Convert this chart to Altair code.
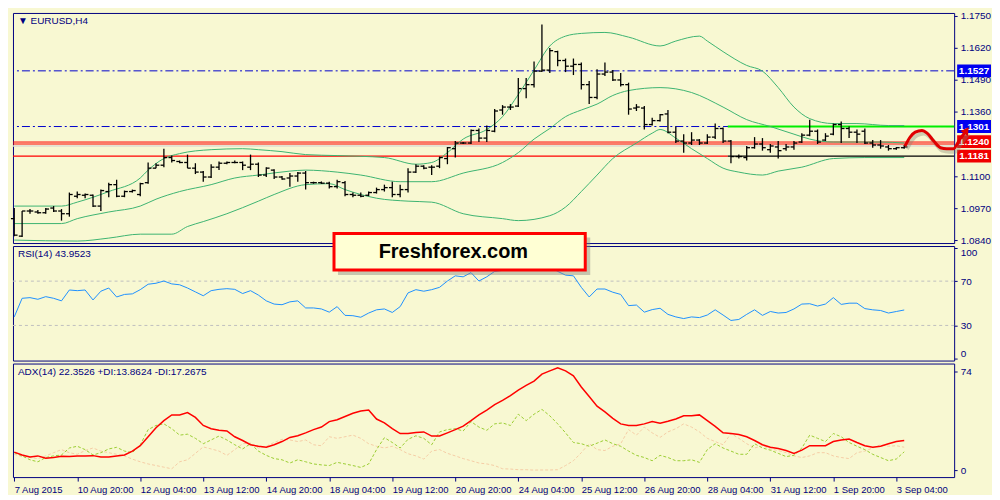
import altair as alt
import pandas as pd

# ---------------- data ----------------
bar_index = list(range(114))
bar_open = [
    1.0927, 1.0856, 1.0958, 1.0954, 1.0951, 1.0970, 1.0958, 1.0947, 1.1018, 1.1022,
    1.1022, 1.0978, 1.1037, 1.1065, 1.1018, 1.1037, 1.1025, 1.1073, 1.1132, 1.1144,
    1.1175, 1.1159, 1.1155, 1.1132, 1.1116, 1.1096, 1.1136, 1.1152, 1.1155, 1.1155,
    1.1136, 1.1148, 1.1104, 1.1124, 1.1096, 1.1092, 1.1100, 1.1112, 1.1073, 1.1073,
    1.1071, 1.1057, 1.1073, 1.1025, 1.1022, 1.1022, 1.1033, 1.1045, 1.1053, 1.1025,
    1.1045, 1.1116, 1.1140, 1.1136, 1.1140, 1.1171, 1.1211, 1.1234, 1.1234, 1.1285,
    1.1254, 1.1282, 1.1368, 1.1380, 1.1384, 1.1455, 1.1471, 1.1526, 1.1530, 1.1605,
    1.1569, 1.1546, 1.1553, 1.1471, 1.1419, 1.1514, 1.1522, 1.1490, 1.1471, 1.1376,
    1.1376, 1.1309, 1.1325, 1.1352, 1.1278, 1.1242, 1.1234, 1.1246, 1.1234, 1.1258,
    1.1293, 1.1242, 1.1179, 1.1175, 1.1215, 1.1230, 1.1207, 1.1218, 1.1211, 1.1218,
    1.1238, 1.1266, 1.1282, 1.1246, 1.1270, 1.1309, 1.1293, 1.1278, 1.1282, 1.1234,
    1.1226, 1.1218, 1.1211, 1.1215]
bar_high = [
    1.0970, 1.0958, 1.0966, 1.0962, 1.0970, 1.0978, 1.0966, 1.1033, 1.1037, 1.1029,
    1.1025, 1.1045, 1.1073, 1.1085, 1.1041, 1.1045, 1.1073, 1.1155, 1.1152, 1.1211,
    1.1183, 1.1163, 1.1187, 1.1152, 1.1120, 1.1148, 1.1159, 1.1159, 1.1163, 1.1159,
    1.1187, 1.1155, 1.1136, 1.1128, 1.1100, 1.1112, 1.1116, 1.1120, 1.1077, 1.1078,
    1.1077, 1.1085, 1.1080, 1.1033, 1.1033, 1.1037, 1.1053, 1.1065, 1.1077, 1.1065,
    1.1132, 1.1148, 1.1144, 1.1144, 1.1179, 1.1218, 1.1242, 1.1238, 1.1289, 1.1293,
    1.1305, 1.1372, 1.1388, 1.1392, 1.1498, 1.1498, 1.1565, 1.1715, 1.1620, 1.1609,
    1.1577, 1.1577, 1.1561, 1.1486, 1.1534, 1.1561, 1.1530, 1.1518, 1.1479, 1.1392,
    1.1384, 1.1337, 1.1352, 1.1368, 1.1301, 1.1270, 1.1278, 1.1250, 1.1270, 1.1313,
    1.1297, 1.1246, 1.1187, 1.1222, 1.1258, 1.1254, 1.1230, 1.1242, 1.1230, 1.1242,
    1.1274, 1.1329, 1.1289, 1.1274, 1.1313, 1.1321, 1.1301, 1.1289, 1.1293, 1.1246,
    1.1246, 1.1226, 1.1218, 1.1226]
bar_low = [
    1.0856, 1.0852, 1.0947, 1.0947, 1.0947, 1.0954, 1.0919, 1.0935, 1.1010, 1.1010,
    1.0974, 1.0958, 1.1014, 1.1014, 1.1014, 1.1033, 1.1018, 1.1069, 1.1132, 1.1136,
    1.1155, 1.1152, 1.1132, 1.1108, 1.1077, 1.1092, 1.1124, 1.1148, 1.1152, 1.1124,
    1.1124, 1.1096, 1.1096, 1.1088, 1.1085, 1.1057, 1.1077, 1.1045, 1.1069, 1.1068,
    1.1049, 1.1049, 1.1018, 1.1014, 1.1014, 1.1018, 1.1029, 1.1037, 1.1014, 1.1014,
    1.1033, 1.1112, 1.1128, 1.1104, 1.1132, 1.1148, 1.1175, 1.1230, 1.1230, 1.1238,
    1.1238, 1.1278, 1.1349, 1.1368, 1.1380, 1.1416, 1.1459, 1.1522, 1.1518, 1.1546,
    1.1522, 1.1510, 1.1451, 1.1392, 1.1412, 1.1506, 1.1486, 1.1463, 1.1349, 1.1364,
    1.1289, 1.1305, 1.1321, 1.1274, 1.1234, 1.1195, 1.1226, 1.1226, 1.1230, 1.1250,
    1.1234, 1.1152, 1.1171, 1.1163, 1.1211, 1.1203, 1.1195, 1.1171, 1.1203, 1.1207,
    1.1234, 1.1262, 1.1230, 1.1242, 1.1266, 1.1234, 1.1254, 1.1234, 1.1230, 1.1215,
    1.1211, 1.1203, 1.1207, 1.1211]
bar_close = [
    1.0860, 1.0958, 1.0958, 1.0951, 1.0966, 1.0958, 1.0947, 1.1025, 1.1025, 1.1025,
    1.0978, 1.1041, 1.1065, 1.1018, 1.1037, 1.1041, 1.1069, 1.1132, 1.1144, 1.1175,
    1.1163, 1.1155, 1.1132, 1.1116, 1.1096, 1.1136, 1.1152, 1.1155, 1.1155, 1.1144,
    1.1148, 1.1104, 1.1132, 1.1096, 1.1088, 1.1100, 1.1112, 1.1073, 1.1073, 1.1071,
    1.1057, 1.1077, 1.1025, 1.1022, 1.1018, 1.1033, 1.1045, 1.1053, 1.1025, 1.1045,
    1.1116, 1.1140, 1.1132, 1.1136, 1.1175, 1.1215, 1.1234, 1.1234, 1.1285, 1.1254,
    1.1285, 1.1364, 1.1380, 1.1380, 1.1455, 1.1471, 1.1526, 1.1530, 1.1609, 1.1569,
    1.1546, 1.1553, 1.1471, 1.1419, 1.1514, 1.1522, 1.1490, 1.1471, 1.1372, 1.1380,
    1.1309, 1.1325, 1.1349, 1.1278, 1.1242, 1.1234, 1.1246, 1.1234, 1.1258, 1.1293,
    1.1242, 1.1179, 1.1179, 1.1215, 1.1230, 1.1215, 1.1222, 1.1203, 1.1218, 1.1234,
    1.1266, 1.1282, 1.1238, 1.1262, 1.1309, 1.1293, 1.1278, 1.1270, 1.1234, 1.1226,
    1.1222, 1.1211, 1.1215, 1.1218]

bb_upper_index = [0, 6, 8, 12, 16, 17, 19, 21, 25, 29, 31, 34, 37, 41, 47, 51, 53, 55, 57, 60,
                  62, 64, 66, 68, 70, 72, 75, 78, 82, 84, 87, 88, 90, 93, 95, 97, 99, 101, 104,
                  107, 111, 113]
bb_upper = [1.0978, 1.0978, 1.0994, 1.1037, 1.1092, 1.1124, 1.1171, 1.1191, 1.1207, 1.1211,
            1.1207, 1.1199, 1.1187, 1.1183, 1.1175, 1.1148, 1.1155, 1.1195, 1.1250, 1.1289,
            1.1341, 1.1431, 1.1530, 1.1628, 1.1668, 1.1679, 1.1683, 1.1664, 1.1628, 1.1648,
            1.1668, 1.1648, 1.1605, 1.1549, 1.1526, 1.1459, 1.1380, 1.1333, 1.1313, 1.1313,
            1.1305, 1.1305]
bb_middle_index = [0, 6, 8, 12, 16, 18, 21, 25, 28, 31, 35, 37, 41, 44, 49, 53, 57, 62, 64, 66,
                   68, 70, 72, 74, 76, 78, 82, 86, 90, 93, 96, 99, 101, 104, 107, 110, 113]
bb_middle = [1.0907, 1.0907, 1.0927, 1.0954, 1.0978, 1.1006, 1.1037, 1.1065, 1.1092, 1.1104,
             1.1120, 1.1124, 1.1116, 1.1104, 1.1077, 1.1077, 1.1112, 1.1155, 1.1195, 1.1250,
             1.1293, 1.1341, 1.1368, 1.1392, 1.1427, 1.1447, 1.1459, 1.1439, 1.1380, 1.1329,
             1.1301, 1.1270, 1.1250, 1.1238, 1.1238, 1.1238, 1.1234]
bb_lower_index = [0, 8, 12, 16, 20, 22, 24, 27, 31, 33, 37, 40, 42, 44, 46, 50, 53, 57, 62, 64,
                  68, 70, 72, 74, 76, 79, 81, 82, 84, 86, 88, 90, 92, 95, 97, 100, 104, 108, 113]
bb_lower = [1.0840, 1.0836, 1.0848, 1.0864, 1.0864, 1.0895, 1.0915, 1.0947, 1.0998, 1.1025,
            1.1065, 1.1069, 1.1045, 1.1025, 1.1010, 1.0998, 1.0994, 1.0947, 1.0927, 1.0919,
            1.0939, 1.0974, 1.1037, 1.1104, 1.1171, 1.1234, 1.1274, 1.1289, 1.1254, 1.1211,
            1.1171, 1.1132, 1.1116, 1.1104, 1.1120, 1.1136, 1.1171, 1.1175, 1.1175]

rsi_values = [
    37.7, 54.5, 55.1, 53.6, 56.0, 54.5, 52.2, 62.0, 61.4, 62.0,
    53.0, 60.9, 63.8, 55.7, 58.0, 58.5, 62.3, 67.2, 68.1, 70.1,
    67.5, 66.7, 63.8, 60.3, 56.8, 61.4, 62.6, 63.2, 62.6, 58.8,
    61.4, 57.4, 52.2, 49.3, 48.7, 51.3, 52.2, 45.8, 45.8, 44.9,
    42.0, 47.0, 39.1, 38.8, 37.4, 41.2, 44.1, 44.9, 41.7, 47.0,
    59.4, 62.3, 60.9, 62.3, 64.4, 70.1, 74.8, 73.9, 77.7, 70.1,
    73.9, 78.8, 79.7, 82.0, 84.5, 86.0, 88.0, 86.5, 83.0, 78.8,
    75.4, 74.8, 64.4, 55.7, 62.9, 62.9, 60.0, 58.0, 47.9, 48.4,
    42.0, 44.3, 45.5, 40.0, 37.7, 36.2, 37.7, 37.1, 39.4, 44.1,
    39.4, 34.5, 35.4, 40.0, 44.1, 39.1, 42.6, 41.2, 41.7, 44.9,
    49.3, 49.6, 47.5, 49.3, 55.1, 49.0, 50.1, 50.1, 45.2, 44.1,
    43.5, 41.2, 42.6, 43.95]
adx_values = [
    13.6, 11.5, 10.0, 10.8, 9.1, 9.6, 10.5, 10.3, 10.8, 10.8,
    11.0, 10.0, 10.0, 10.8, 11.5, 14.4, 18.4, 25.1, 31.8, 37.1,
    41.4, 41.4, 43.1, 39.5, 33.5, 31.1, 29.9, 29.4, 25.1, 22.3,
    19.1, 18.0, 17.2, 19.1, 21.5, 24.6, 25.8, 28.0, 30.4, 32.3,
    36.4, 37.8, 40.2, 42.6, 44.3, 45.0, 38.3, 35.4, 31.1, 27.5,
    27.5, 28.2, 28.7, 25.6, 25.6, 28.0, 30.4, 33.0, 37.1, 41.4,
    45.0, 49.1, 52.2, 55.8, 59.9, 63.4, 66.6, 71.8, 74.2, 76.6,
    74.2, 70.6, 62.2, 55.1, 47.9, 43.6, 38.8, 34.7, 33.5, 33.5,
    34.7, 36.4, 35.2, 36.6, 38.3, 40.7, 40.7, 41.4, 37.1, 32.8,
    28.0, 27.5, 26.8, 25.1, 22.3, 19.1, 17.2, 16.3, 14.8, 12.7,
    15.1, 18.4, 18.4, 18.4, 21.5, 22.7, 23.4, 20.8, 18.4, 17.2,
    18.0, 19.9, 21.5, 22.35]
plus_di = [
    13.2, 10.8, 7.9, 6.4, 9.6, 10.8, 11.5, 16.7, 18.0, 15.5,
    11.5, 13.2, 16.0, 17.2, 14.4, 13.2, 19.1, 30.4, 33.5, 34.7,
    31.1, 26.3, 27.0, 23.9, 19.9, 22.7, 25.6, 22.7, 19.1, 16.0,
    19.9, 14.4, 11.2, 8.8, 7.9, 5.5, 7.9, 6.4, 4.8, 4.1,
    3.6, 6.0, 4.8, 3.6, 2.2, 4.8, 15.5, 24.4, 20.8, 16.7,
    23.2, 25.8, 23.9, 19.1, 28.7, 30.4, 31.1, 29.4, 36.4, 32.3,
    29.9, 34.7, 35.4, 33.5, 41.9, 37.1, 41.9, 45.5, 40.7, 34.7,
    28.0, 20.8, 19.9, 18.0, 20.3, 22.7, 19.9, 18.0, 14.4, 11.2,
    9.6, 7.2, 11.2, 9.6, 7.2, 7.2, 7.9, 6.0, 15.5, 19.9,
    16.7, 14.4, 12.0, 12.0, 19.9, 16.7, 15.1, 12.7, 10.3, 11.2,
    16.7, 26.3, 23.9, 21.5, 27.5, 25.1, 20.8, 18.0, 15.5, 12.0,
    9.6, 7.2, 8.5, 13.86]
minus_di = [
    12.0, 10.3, 9.6, 8.8, 10.8, 13.2, 15.5, 13.2, 12.0, 14.8,
    16.7, 14.4, 13.2, 12.0, 10.8, 8.4, 6.4, 4.8, 3.6, 2.4,
    1.2, 6.4, 7.9, 12.7, 17.5, 16.0, 14.4, 11.2, 15.5, 19.9,
    20.3, 16.7, 18.0, 20.8, 23.2, 22.7, 21.5, 22.7, 19.1, 18.4,
    25.1, 23.9, 25.1, 26.3, 23.9, 19.9, 18.0, 16.7, 18.0, 15.5,
    12.4, 10.8, 8.4, 14.4, 15.5, 12.7, 10.8, 8.8, 7.2, 5.5,
    4.8, 3.6, 1.2, 1.0, 0.5, 0.5, 0.2, 0.3, 0.3, 0.5,
    3.6, 7.2, 13.2, 19.9, 15.5, 14.8, 18.0, 19.9, 30.4, 26.3,
    32.3, 28.0, 24.6, 28.7, 31.1, 34.7, 32.3, 28.7, 23.9, 21.5,
    19.1, 27.5, 23.9, 19.9, 16.7, 18.4, 16.0, 14.8, 13.2, 10.8,
    9.6, 10.8, 13.2, 13.2, 10.8, 9.6, 8.8, 13.2, 14.4, 16.7,
    19.1, 18.0, 18.4, 17.27]

x_tick_index = list(range(0, 113, 8))
x_tick_labels = ["7 Aug 2015", "10 Aug 20:00", "12 Aug 04:00", "13 Aug 12:00", "14 Aug 20:00",
                 "18 Aug 04:00", "19 Aug 12:00", "20 Aug 20:00", "24 Aug 04:00", "25 Aug 12:00",
                 "26 Aug 20:00", "28 Aug 04:00", "31 Aug 12:00", "1 Sep 20:00", "3 Sep 04:00"]
# 1.1230 sits under the red 1.1240 price tag in the reference, so it is not shown
price_ticks = [1.0840, 1.0970, 1.1100, 1.1360, 1.1490, 1.1620, 1.1750]
rsi_ticks = [0, 30, 70, 100]
rsi_levels = [30, 70]
adx_ticks = [0, 74]

blue_levels = [1.1527, 1.1301]
red_double_levels = [1.1238, 1.1230]
shadow_level = [1.1222]
support_level = 1.1181
resistance_level = 1.1301
box_start = 90.6
curve_index = [113.1, 113.75, 114.4, 115.25, 115.9, 116.75, 117.6, 118.4, 119.25, 120.0, 120.9]
curve_price = [1.1222, 1.1258, 1.1278, 1.1285, 1.1274, 1.1242, 1.1215, 1.1211, 1.1211, 1.1246, 1.1285]
tag_text = ["1.1527", "1.1301", "1.1240", "1.1181"]
tag_price = [1.1527, 1.1301, 1.1240, 1.1181]
tag_color = ["#0000f0", "#0000f0", "#f00000", "#f00000"]
banner_text = "Freshforex.com"
banner_x = [40.6, 72.5]
banner_rsi = [113.0, 80.0]
main_title = "▼  EURUSD,H4"
rsi_title = "RSI(14) 43.9523"
adx_title = "ADX(14) 22.3526 +DI:13.8624 -DI:17.2675"

# ---------------- style ----------------
FONT = "Liberation Sans"
NAVY = "#000080"
BG = "#f8f8d2"
W = 945
H_MAIN, H_RSI, H_ADX = 231, 115, 114
X_DOMAIN = [-0.16, 119.34]
PRICE_DOMAIN = [1.0828, 1.1762]
RSI_DOMAIN = [-1.7, 101.7]
ADX_DOMAIN = [-5.0, 79.7]
BB_COLOR = "#3cb371"

xscale = alt.Scale(domain=X_DOMAIN, nice=False, zero=False)


def xq(field, axis=None):
    return alt.X(f"{field}:Q", scale=xscale, axis=axis)


price_scale = alt.Scale(domain=PRICE_DOMAIN, nice=False, zero=False)
price_axis = alt.Axis(orient="right", values=price_ticks, format=".4f", title=None,
                      tickSize=3, labelPadding=3, grid=False, domain=False)


def yp(field):
    return alt.Y(f"{field}:Q", scale=price_scale, axis=price_axis)


rsi_scale = alt.Scale(domain=RSI_DOMAIN, nice=False, zero=False)
rsi_axis = alt.Axis(orient="right", values=rsi_ticks, title=None, tickSize=3, labelPadding=3,
                    grid=False, domain=False,
                    labelBaseline={"expr": "datum.value >= 100 ? 'top' : (datum.value <= 0 ? 'bottom' : 'middle')"})


def yr(field):
    return alt.Y(f"{field}:Q", scale=rsi_scale, axis=rsi_axis)


adx_scale = alt.Scale(domain=ADX_DOMAIN, nice=False, zero=False)
adx_axis = alt.Axis(orient="right", values=adx_ticks, title=None, tickSize=3, labelPadding=3,
                    grid=False, domain=False)


def ya(field):
    return alt.Y(f"{field}:Q", scale=adx_scale, axis=adx_axis)


def title_text(txt):
    return alt.Chart(pd.DataFrame({"t": [txt]})).mark_text(
        align="left", baseline="middle", font=FONT, fontSize=10, color=NAVY
    ).encode(x=alt.value(5), y=alt.value(8), text="t:N")


# ---------------- main price panel ----------------
bars = pd.DataFrame({"i": bar_index, "o": bar_open, "h": bar_high, "l": bar_low, "c": bar_close})
base = alt.Chart(bars)
wick = base.mark_rule(color="black", strokeWidth=1.3).encode(x=xq("i"), y=yp("l"), y2="h:Q")
open_t = base.transform_calculate(xl="datum.i - 0.42").mark_rule(
    color="black", strokeWidth=1.3).encode(x=xq("xl"), x2="i:Q", y=yp("o"))
close_t = base.transform_calculate(xr="datum.i + 0.42").mark_rule(
    color="black", strokeWidth=1.3).encode(x=xq("i"), x2="xr:Q", y=yp("c"))

blue = alt.Chart(pd.DataFrame({"p": blue_levels})).mark_rule(
    color="#0000cd", strokeDash=[8, 3, 2, 3], strokeWidth=1).encode(y=yp("p"))
red2 = alt.Chart(pd.DataFrame({"p": red_double_levels})).mark_rule(
    color="#ff0000", strokeWidth=1).encode(y=yp("p"))
gray = alt.Chart(pd.DataFrame({"p": shadow_level})).mark_rule(
    color="#dedcd0", strokeWidth=1.5).encode(y=yp("p"))

segs = pd.DataFrame({
    "x0": [X_DOMAIN[0], box_start, box_start],
    "x1": [box_start, X_DOMAIN[1], X_DOMAIN[1]],
    "p": [support_level, support_level, resistance_level],
})
seg_red = alt.Chart(segs.iloc[[0]]).mark_rule(color="#ff0000", strokeWidth=1.2).encode(
    x=xq("x0"), x2="x1:Q", y=yp("p"))
seg_black = alt.Chart(segs.iloc[[1]]).mark_rule(color="#000000", strokeWidth=1.2).encode(
    x=xq("x0"), x2="x1:Q", y=yp("p"))
seg_green = alt.Chart(segs.iloc[[2]]).mark_rule(color="#00ee00", strokeWidth=2).encode(
    x=xq("x0"), x2="x1:Q", y=yp("p"))


def bb_line(idx, vals):
    return alt.Chart(pd.DataFrame({"i": idx, "v": vals})).mark_line(
        color=BB_COLOR, strokeWidth=1, interpolate="monotone").encode(x=xq("i"), y=yp("v"))


bbu = bb_line(bb_upper_index, bb_upper)
bbm = bb_line(bb_middle_index, bb_middle)
bbl = bb_line(bb_lower_index, bb_lower)

tags = pd.DataFrame({"t": tag_text, "p": tag_price, "col": tag_color})
tag_rect = alt.Chart(tags).transform_calculate(
    top="datum.p + 0.0026", bot="datum.p - 0.0026").mark_rect().encode(
    x=alt.value(W + 3), x2=alt.value(W + 37), y=yp("top"), y2="bot:Q",
    color=alt.Color("col:N", scale=None))
tag_txt = alt.Chart(tags).mark_text(
    font=FONT, fontSize=10, fontWeight="bold", color="white", align="center", baseline="middle"
).encode(x=alt.value(W + 20), y=yp("p"), text="t:N")

curve_df = pd.DataFrame({"i": curve_index, "p": curve_price})
curve_shadow = alt.Chart(curve_df).mark_line(
    color="#808070", opacity=0.35, strokeWidth=4, interpolate="monotone", yOffset=3, xOffset=2
).encode(x=xq("i"), y=yp("p"))
curve = alt.Chart(curve_df).mark_line(
    color="#e00000", strokeWidth=3, interpolate="monotone").encode(x=xq("i"), y=yp("p"))
arrow = alt.Chart(curve_df.tail(1)).mark_point(
    shape="triangle-up", filled=True, size=80, angle=35, color="#e00000", opacity=1
).encode(x=xq("i"), y=yp("p"))

main = alt.layer(
    gray, blue, red2, seg_red, seg_black, seg_green, bbu, bbm, bbl,
    wick, open_t, close_t, tag_rect, tag_txt, curve_shadow, curve, arrow,
    title_text(main_title)
).properties(width=W, height=H_MAIN)

# ---------------- RSI panel ----------------
rsi_df = pd.DataFrame({"i": bar_index, "v": rsi_values})
lv = alt.Chart(pd.DataFrame({"v": rsi_levels})).mark_rule(
    color="#c0c0c0", strokeDash=[3, 3], strokeWidth=1).encode(y=yr("v"))
rsi_line = alt.Chart(rsi_df).mark_line(color="#1e90ff", strokeWidth=1).encode(
    x=xq("i"), y=yr("v"))
banner_df = pd.DataFrame({"x0": [banner_x[0]], "x1": [banner_x[1]],
                          "y0": [banner_rsi[0]], "y1": [banner_rsi[1]], "t": [banner_text]})
banner_shadow = alt.Chart(banner_df).mark_rect(
    color="#8a8a80", opacity=0.45, xOffset=4, x2Offset=5, yOffset=4, y2Offset=5
).encode(x=xq("x0"), x2="x1:Q", y=yr("y0"), y2="y1:Q")
banner = alt.Chart(banner_df).mark_rect(
    fill="#ffffd4", stroke="#ff0000", strokeWidth=3
).encode(x=xq("x0"), x2="x1:Q", y=yr("y0"), y2="y1:Q")
banner_txt = alt.Chart(banner_df).transform_calculate(
    cx="(datum.x0 + datum.x1) / 2 - 0.8", cy="(datum.y0 + datum.y1) / 2"
).mark_text(font=FONT, fontSize=20, fontWeight="bold", color="black",
            align="center", baseline="middle").encode(x=xq("cx"), y=yr("cy"), text="t:N")

rsi = alt.layer(lv, rsi_line, banner_shadow, banner, banner_txt,
                title_text(rsi_title)).properties(width=W, height=H_RSI)

# ---------------- ADX panel ----------------
label_expr = "[" + ",".join("'%s'" % s for s in x_tick_labels) + "][round(datum.value / 8)]"
x_axis = alt.Axis(values=x_tick_index, labelExpr=label_expr, labelAlign="left", labelPadding=3,
                  tickSize=4, title=None, grid=False, domain=False, labelFontSize=9.5,
                  labelOverlap=False, labelFlush=False, labelBound=False)
adx_df = pd.DataFrame({"i": bar_index, "adx": adx_values, "pdi": plus_di, "mdi": minus_di})
adx_base = alt.Chart(adx_df)
mdi_line = adx_base.mark_line(color="#f5cda5", strokeWidth=1, strokeDash=[3, 2]).encode(
    x=xq("i", x_axis), y=ya("mdi"))
pdi_line = adx_base.mark_line(color="#9acd32", strokeWidth=1, strokeDash=[3, 2]).encode(
    x=xq("i", x_axis), y=ya("pdi"))
adx_line = adx_base.mark_line(color="#ff0000", strokeWidth=1.5).encode(
    x=xq("i", x_axis), y=ya("adx"))
adx = alt.layer(mdi_line, pdi_line, adx_line, title_text(adx_title)).properties(
    width=W, height=H_ADX)

chart = alt.vconcat(main, rsi, adx, spacing=3, bounds="flush").properties(
    padding={"left": 1, "top": 1, "right": 0, "bottom": 0}
).configure(background=BG).configure_view(
    stroke=NAVY, strokeWidth=1, fill=BG
).configure_axis(
    labelFont=FONT, labelFontSize=10, labelColor=NAVY, tickColor=NAVY
)

chart.save("out.html", embed_options={"renderer": "svg", "actions": False})
